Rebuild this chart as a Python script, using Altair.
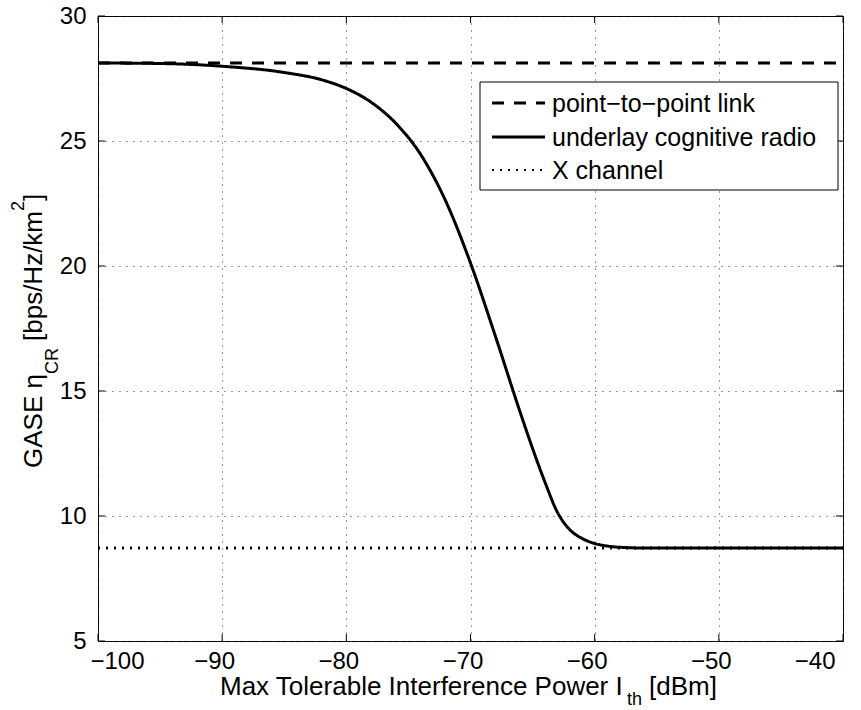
import altair as alt
import pandas as pd

# ---------------- data ----------------
x_curve = [-100, -95, -90, -85, -82, -80, -78, -76, -74, -72, -70, -68, -66,
           -65, -64, -63, -62, -61, -60, -59, -58, -56, -50, -40]
y_curve = [28.12, 28.10, 27.99, 27.74, 27.45, 27.10, 26.55, 25.70, 24.45,
           22.60, 20.12, 17.20, 14.15, 12.70, 11.35, 10.15, 9.45, 9.10, 8.90,
           8.80, 8.75, 8.72, 8.72, 8.72]
p2p_value = 28.12
xch_value = 8.72
x_span = [-100, -40]
series_names = ["point\u2212to\u2212point link", "underlay cognitive radio", "X channel"]
x_ticks = [-100, -90, -80, -70, -60, -50, -40]
y_ticks = [5, 10, 15, 20, 25, 30]

rows = []
for x in x_span:
    rows.append({"x": x, "y": p2p_value, "s": series_names[0], "o": 0})
for x, y in zip(x_curve, y_curve):
    rows.append({"x": x, "y": y, "s": series_names[1], "o": 1})
for x in x_span:
    rows.append({"x": x, "y": xch_value, "s": series_names[2], "o": 2})
df = pd.DataFrame(rows)

# ---------------- layout ----------------
W, H = 745, 625
LEFT, TOP = 98, 16
FONT = "Liberation Sans"
TF = 26   # title font
SF = 18   # sub/superscript font
DASHES = [[12, 10], [1, 0], [2, 6]]
WIDTHS = [3, 3, 2]

xscale = alt.Scale(domain=[-100, -40], nice=False, zero=False)
yscale = alt.Scale(domain=[5, 30], nice=False, zero=False)
xaxis = alt.Axis(values=x_ticks, title=None, grid=True, gridDash=[1, 6],
                 gridColor="#333", gridWidth=1, ticks=False, domain=False,
                 labelFontSize=24, labelFont=FONT, labelColor="black",
                 labelPadding=8, labelOffset=-8)
yaxis = alt.Axis(values=y_ticks, title=None, grid=True, gridDash=[1, 6],
                 gridColor="#333", gridWidth=1, ticks=False, domain=False,
                 labelFontSize=24, labelFont=FONT, labelColor="black",
                 labelPadding=12)

lines = alt.Chart(df).mark_line(color="black", clip=True, strokeCap="butt",
                                interpolate="monotone").encode(
    x=alt.X("x:Q", scale=xscale, axis=xaxis),
    y=alt.Y("y:Q", scale=yscale, axis=yaxis),
    strokeDash=alt.StrokeDash("s:N", scale=alt.Scale(domain=series_names, range=DASHES),
                              legend=None),
    strokeWidth=alt.StrokeWidth("s:N", scale=alt.Scale(domain=series_names, range=WIDTHS),
                                legend=None),
    detail="s:N",
    order="o:Q",
)

# inward tick marks on all four sides
xt = pd.DataFrame({"v": x_ticks})
yt = pd.DataFrame({"v": y_ticks})
TL = 7
tick_b = alt.Chart(xt).mark_rule(color="black").encode(
    x=alt.X("v:Q", scale=xscale, axis=xaxis), y=alt.value(H), y2=alt.value(H - TL))
tick_t = alt.Chart(xt).mark_rule(color="black").encode(
    x=alt.X("v:Q", scale=xscale, axis=xaxis), y=alt.value(0), y2=alt.value(TL))
tick_l = alt.Chart(yt).mark_rule(color="black").encode(
    y=alt.Y("v:Q", scale=yscale, axis=yaxis), x=alt.value(0), x2=alt.value(TL))
tick_r = alt.Chart(yt).mark_rule(color="black").encode(
    y=alt.Y("v:Q", scale=yscale, axis=yaxis), x=alt.value(W), x2=alt.value(W - TL))

one = pd.DataFrame({"a": [0]})


def txt(s, x, y, size, angle=0, baseline="alphabetic"):
    return alt.Chart(one).mark_text(
        font=FONT, fontSize=size, color="black", align="left",
        baseline=baseline, angle=angle
    ).encode(x=alt.value(x), y=alt.value(y), text=alt.value(s))


# legend (box, samples, labels)
LX0, LX1, LY0, LY1 = 382, 740, 66, 174
ROW_Y = [87, 121, 154]
legend_box = alt.Chart(one).mark_rect(fill="white", stroke="black", strokeWidth=1).encode(
    x=alt.value(LX0), x2=alt.value(LX1), y=alt.value(LY0), y2=alt.value(LY1))
legend_parts = [legend_box]
for name, ry, dash, w in zip(series_names, ROW_Y, DASHES, WIDTHS):
    legend_parts.append(
        alt.Chart(one).mark_rule(color="black", strokeDash=dash, strokeWidth=w,
                                 strokeCap="butt").encode(
            x=alt.value(394), x2=alt.value(447), y=alt.value(ry)))
    legend_parts.append(txt(name, 454, ry + 1, 25, baseline="middle"))

# x-axis title with subscript
xt_start = 122
x_title = [
    txt("Max Tolerable Interference Power I", xt_start, 679, TF),
    txt("th", xt_start + 407, 689, SF),
    txt("[dBm]", xt_start + 429, 679, TF),
]
# y-axis title (rotated) with subscript and superscript
y_title = [
    txt("GASE \u03b7", -56, 452, TF, 270),
    txt("CR", -40, 358, SF, 270),
    txt("[bps/Hz/km", -56, 325, TF, 270),
    txt("2", -74, 195, SF, 270),
    txt("]", -56, 185, TF, 270),
]

chart = alt.layer(
    lines, tick_b, tick_t, tick_l, tick_r, *legend_parts, *x_title, *y_title
).properties(
    width=W, height=H,
    autosize=alt.AutoSizeParams(type="none"),
    padding={"left": LEFT, "top": TOP, "right": 861 - LEFT - W, "bottom": 710 - TOP - H},
    background="white",
).configure_view(stroke="black", strokeWidth=1)

chart.save("out.html", embed_options={"renderer": "svg", "actions": False})
